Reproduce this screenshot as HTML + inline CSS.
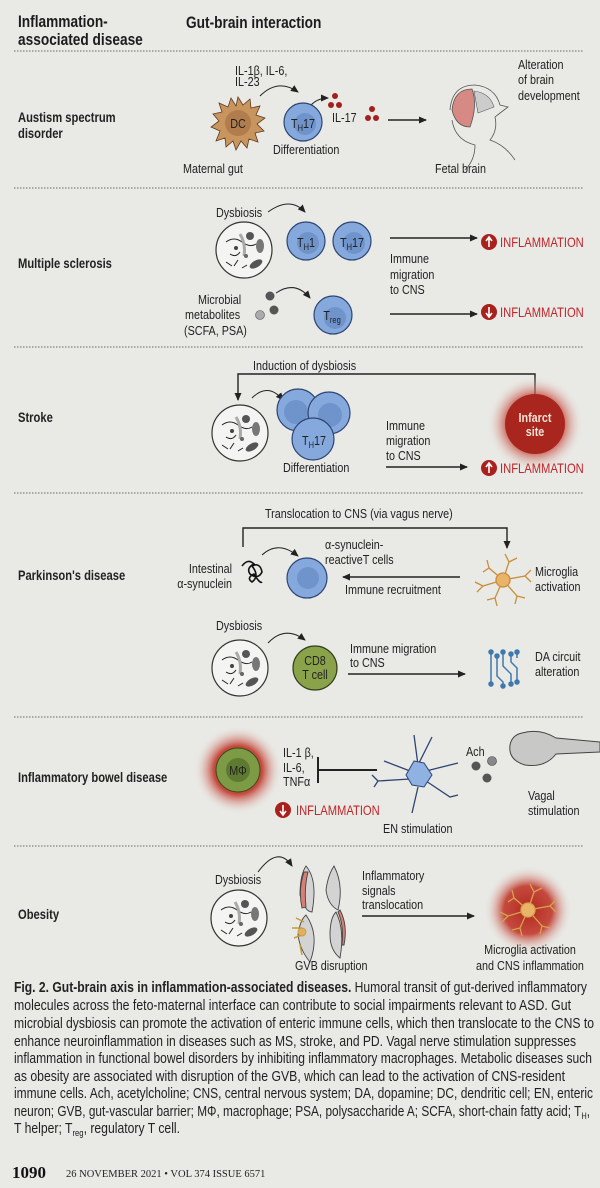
<!DOCTYPE html>
<html><head><meta charset="utf-8"><style>
html,body{margin:0;padding:0;background:#e9e9e5;}
svg{display:block;}
text{font-family:"Liberation Sans Narrow","Liberation Sans",sans-serif;fill:#222;}
.h,.d,.l,.r{transform-box:fill-box;transform-origin:0% 50%;transform:scaleX(0.83);}
.mid{transform-origin:50% 50% !important;}
.end{transform-origin:100% 50% !important;}
.h{font-weight:bold;font-size:16.5px;fill:#1c1c1c;}
.d{font-weight:bold;font-size:13.5px;}
.l{font-size:13px;}
.r{font-size:13.5px;fill:#c0262a;}
.c{font-size:14.3px;}
.cell{fill:#86a9dd;stroke:#2d4573;stroke-width:1.2;}
.inn{fill:#6f94cc;}
.sep{stroke:#666;stroke-width:1;stroke-dasharray:1.5 1.5;}
.ar{stroke:#222;stroke-width:1.4;fill:none;}
.thin{stroke:#222;stroke-width:1;fill:none;}
</style></head><body>
<svg width="600" height="1188" viewBox="0 0 600 1188" xmlns="http://www.w3.org/2000/svg">
<defs>
<marker id="m" markerWidth="8" markerHeight="8" refX="7" refY="4" orient="auto" markerUnits="userSpaceOnUse"><path d="M0,0.5 L8,4 L0,7.5 z" fill="#222"/></marker>
<radialGradient id="glow"><stop offset="0" stop-color="#b3261e"/><stop offset="0.55" stop-color="#c0392b" stop-opacity="0.9"/><stop offset="1" stop-color="#e9e9e5" stop-opacity="0"/></radialGradient>
<g id="mic">
<circle r="28" fill="#f4f4f2" stroke="#333" stroke-width="1.2"/>
<path d="M-18,-8 q8,-6 16,0 t14,2" class="thin" stroke="#888"/>
<path d="M-14,4 q6,4 10,-2" class="thin"/>
<path d="M-4,-16 q6,10 4,22" stroke="#aaa" stroke-width="3" fill="none"/>
<circle cx="6" cy="-14" r="4" fill="#555"/>
<ellipse cx="16" cy="-4" rx="4" ry="7" fill="#777"/>
<ellipse cx="12" cy="14" rx="7" ry="3.5" fill="#555" transform="rotate(-30 12 14)"/>
<path d="M-18,12 l6,4 M-10,16 l4,-6 M-2,18 l5,-3" class="thin"/>
<circle cx="-8" cy="-2" r="2" fill="#444"/><circle cx="2" cy="6" r="2" fill="#666"/>
</g>
<g id="up"><circle r="8" fill="#a9211c"/><path d="M0,5 V-4 M-3,-1 L0,-5 L3,-1" stroke="#fff" stroke-width="1.6" fill="none"/></g>
<g id="dn"><circle r="8" fill="#a9211c"/><path d="M0,-5 V4 M-3,1 L0,5 L3,1" stroke="#fff" stroke-width="1.6" fill="none"/></g>
</defs>

<!-- header -->
<text class="h" x="18" y="27">Inflammation-</text>
<text class="h" x="18" y="45">associated disease</text>
<text class="h" x="186" y="28">Gut-brain interaction</text>
<line class="sep" x1="14" y1="51" x2="584" y2="51"/>
<line class="sep" x1="14" y1="188" x2="584" y2="188"/>
<line class="sep" x1="14" y1="347" x2="584" y2="347"/>
<line class="sep" x1="14" y1="493" x2="584" y2="493"/>
<line class="sep" x1="14" y1="717" x2="584" y2="717"/>
<line class="sep" x1="14" y1="846" x2="584" y2="846"/>

<!-- ASD -->
<text class="d" x="18" y="122">Austism spectrum</text>
<text class="d" x="18" y="138">disorder</text>
<text class="l" x="235" y="75">IL-1β, IL-6,</text>
<text class="l" x="235" y="86">IL-23</text>
<path d="M260,96 Q278,78 298,92" class="thin" marker-end="url(#m)"/>
<g transform="translate(238,123)">
<path d="M0,-26 L5,-18 L12,-24 L13,-15 L22,-17 L18,-8 L27,-5 L19,1 L26,8 L17,10 L20,19 L11,16 L9,25 L3,18 L-2,27 L-5,18 L-12,24 L-13,15 L-22,18 L-18,8 L-27,4 L-19,-2 L-25,-9 L-16,-11 L-19,-20 L-10,-16 L-7,-25 L-2,-17 z" fill="#c9955e" stroke="#5b3a1e" stroke-width="0.8"/>
<circle r="13" fill="#b27d4d"/>
<text x="0" y="5" text-anchor="middle" class="l mid">DC</text>
</g>
<path d="M311,105 Q318,98 328,98" class="thin" marker-end="url(#m)"/>
<circle class="cell" cx="303" cy="122" r="19"/><circle class="inn" cx="305" cy="124" r="11"/>
<text x="303" y="128" text-anchor="middle" class="l mid">T<tspan font-size="9" dy="3">H</tspan><tspan dy="-3">17</tspan></text>
<text class="l" x="273" y="154">Differentiation</text>
<text class="l" x="183" y="173">Maternal gut</text>
<g fill="#a3201c"><circle cx="335" cy="96" r="3"/><circle cx="331" cy="105" r="3"/><circle cx="339" cy="105" r="3"/><circle cx="372" cy="109" r="3"/><circle cx="368" cy="118" r="3"/><circle cx="376" cy="118" r="3"/></g>
<text class="l" x="332" y="122">IL-17</text>
<line x1="388" y1="120" x2="426" y2="120" class="ar" marker-end="url(#m)"/>
<g transform="translate(470,115)">
<path d="M-20,-5 Q-18,-30 5,-30 Q25,-28 30,-10 L38,-8 Q30,-2 25,2 Q28,15 20,25 Q35,30 45,45 M-18,5 Q-15,25 5,30 Q5,45 -5,55" fill="none" stroke="#555" stroke-width="0.8"/>
<path d="M-18,-5 Q-16,-26 2,-26 Q8,-10 0,12 Q-14,12 -18,-5z" fill="#d68a83" stroke="#555" stroke-width="0.8"/>
<path d="M4,-24 Q20,-22 24,-8 L8,-2 z" fill="#ccc" stroke="#555" stroke-width="0.6"/>
</g>
<text class="l" x="518" y="69">Alteration</text>
<text class="l" x="518" y="84">of brain</text>
<text class="l" x="518" y="100">development</text>
<text class="l" x="435" y="173">Fetal brain</text>

<!-- MS -->
<text class="d" x="18" y="268">Multiple sclerosis</text>
<text class="l" x="216" y="217">Dysbiosis</text>
<path d="M268,212 Q290,196 305,212" class="thin" marker-end="url(#m)"/>
<use href="#mic" x="244" y="250"/>
<circle class="cell" cx="306" cy="241" r="19"/><circle class="inn" cx="308" cy="243" r="11"/>
<text x="306" y="247" text-anchor="middle" class="l mid">T<tspan font-size="9" dy="3">H</tspan><tspan dy="-3">1</tspan></text>
<circle class="cell" cx="352" cy="241" r="19"/><circle class="inn" cx="354" cy="243" r="11"/>
<text x="352" y="247" text-anchor="middle" class="l mid">T<tspan font-size="9" dy="3">H</tspan><tspan dy="-3">17</tspan></text>
<line x1="390" y1="238" x2="477" y2="238" class="ar" marker-end="url(#m)"/>
<use href="#up" x="489" y="242"/><text class="r" x="500" y="247">INFLAMMATION</text>
<text class="l" x="390" y="263">Immune</text>
<text class="l" x="390" y="279">migration</text>
<text class="l" x="390" y="294">to CNS</text>
<text class="l" x="198" y="304">Microbial</text>
<text class="l" x="185" y="319">metabolites</text>
<text class="l" x="184" y="335">(SCFA, PSA)</text>
<circle cx="270" cy="296" r="4.5" fill="#555"/><circle cx="274" cy="310" r="4.5" fill="#555"/><circle cx="260" cy="315" r="4.5" fill="#aaa" stroke="#555" stroke-width="0.6"/>
<path d="M276,293 Q295,280 310,298" class="thin" marker-end="url(#m)"/>
<circle class="cell" cx="333" cy="315" r="19"/><circle class="inn" cx="335" cy="318" r="11"/>
<text x="332" y="320" text-anchor="middle" class="l mid">T<tspan font-size="9" dy="3">reg</tspan></text>
<line x1="390" y1="314" x2="477" y2="314" class="ar" marker-end="url(#m)"/>
<use href="#dn" x="489" y="312"/><text class="r" x="500" y="317">INFLAMMATION</text>

<!-- Stroke -->
<text class="d" x="18" y="422">Stroke</text>
<text class="l" x="253" y="370">Induction of dysbiosis</text>
<path d="M535,400 V374 H238 V400" class="ar" marker-end="url(#m)"/>
<path d="M252,398 Q268,382 283,400" class="thin" marker-end="url(#m)"/>
<use href="#mic" x="240" y="433"/>
<circle class="cell" cx="298" cy="410" r="21"/><circle class="inn" cx="296" cy="412" r="12"/>
<circle class="cell" cx="329" cy="413" r="21"/><circle class="inn" cx="330" cy="415" r="12"/>
<circle class="cell" cx="313" cy="439" r="21"/>
<text x="314" y="445" text-anchor="middle" class="l mid">T<tspan font-size="9" dy="3">H</tspan><tspan dy="-3">17</tspan></text>
<text class="l" x="283" y="472">Differentiation</text>
<circle cx="535" cy="424" r="48" fill="url(#glow)"/>
<circle cx="535" cy="424" r="30" fill="#a9261f"/>
<text x="535" y="422" text-anchor="middle" class="l mid" style="fill:#f3e2d5;font-weight:bold">Infarct</text>
<text x="535" y="436" text-anchor="middle" class="l mid" style="fill:#f3e2d5;font-weight:bold">site</text>
<text class="l" x="386" y="430">Immune</text>
<text class="l" x="386" y="445">migration</text>
<text class="l" x="386" y="460">to CNS</text>
<line x1="386" y1="467" x2="467" y2="467" class="ar" marker-end="url(#m)"/>
<use href="#up" x="489" y="468"/><text class="r" x="500" y="473">INFLAMMATION</text>

<!-- PD -->
<text class="d" x="18" y="580">Parkinson's disease</text>
<text class="l" x="265" y="518">Translocation to CNS (via vagus nerve)</text>
<path d="M243,547 V528 H507 V548" class="ar" marker-end="url(#m)"/>
<text class="l end" x="232" y="573" text-anchor="end">Intestinal</text>
<text class="l end" x="232" y="588" text-anchor="end">α-synuclein</text>
<path d="M242,566 q6,-8 12,-2 q-8,4 -4,10 q8,6 12,-2 q-2,-10 -10,-6 q8,10 0,16 q-6,-4 2,-8 q6,10 8,8" fill="none" stroke="#111" stroke-width="1.6"/>
<path d="M262,555 Q278,540 298,556" class="thin" marker-end="url(#m)"/>
<circle class="cell" cx="307" cy="578" r="20"/><circle class="inn" cx="308" cy="578" r="11"/>
<text class="l" x="325" y="549">α-synuclein-</text>
<text class="l" x="325" y="564">reactiveT cells</text>
<line x1="460" y1="577" x2="343" y2="577" class="ar" marker-end="url(#m)"/>
<text class="l" x="345" y="594">Immune recruitment</text>
<g transform="translate(503,580)" stroke="#c98d3c" stroke-width="1.3" fill="none">
<path d="M0,0 L-14,-12 L-20,-8 M-14,-12 L-16,-20 M0,0 L6,-18 L2,-26 M6,-18 L14,-22 M0,0 L22,-4 L28,-10 M22,-4 L28,2 M0,0 L14,16 L12,24 M14,16 L22,18 M0,0 L-8,18 L-16,20 M-8,18 L-6,26 M0,0 L-20,6 L-28,2 M-20,6 L-26,12"/>
<circle r="7" fill="#e9b36a" stroke="#c98d3c"/>
</g>
<text class="l" x="535" y="576">Microglia</text>
<text class="l" x="535" y="591">activation</text>
<text class="l" x="216" y="630">Dysbiosis</text>
<path d="M268,643 Q285,625 305,640" class="thin" marker-end="url(#m)"/>
<use href="#mic" x="240" y="668"/>
<circle cx="315" cy="668" r="22" fill="#8aa34a" stroke="#33401b" stroke-width="1.2"/>
<text x="315" y="665" text-anchor="middle" class="l mid">CD8</text>
<text x="315" y="679" text-anchor="middle" class="l mid">T cell</text>
<text class="l" x="350" y="653">Immune migration</text>
<text class="l" x="350" y="667">to CNS</text>
<line x1="348" y1="674" x2="465" y2="674" class="ar" marker-end="url(#m)"/>
<g transform="translate(505,668)" stroke="#3f79ad" stroke-width="1.5" fill="none">
<path d="M-14,-16 V16 M-8,-12 V8 l6,6 V18 M-2,-16 V-2 l8,8 V16 M6,-14 V-6 l6,6 V14 M12,-16 V-10"/>
<g fill="#3f79ad"><circle cx="-14" cy="-16" r="2"/><circle cx="-8" cy="-12" r="2"/><circle cx="-2" cy="-16" r="2"/><circle cx="6" cy="-14" r="2"/><circle cx="12" cy="-16" r="2"/><circle cx="-2" cy="18" r="2"/><circle cx="6" cy="16" r="2"/><circle cx="12" cy="14" r="2"/><circle cx="-14" cy="16" r="2"/></g>
</g>
<text class="l" x="535" y="661">DA circuit</text>
<text class="l" x="535" y="676">alteration</text>

<!-- IBD -->
<text class="d" x="18" y="782">Inflammatory bowel disease</text>
<circle cx="238" cy="770" r="44" fill="url(#glow)"/>
<circle cx="238" cy="770" r="22" fill="#7d9a45" stroke="#3c4a1d" stroke-width="1"/>
<circle cx="238" cy="770" r="12" fill="#5d7a30"/>
<text x="238" y="775" text-anchor="middle" class="l mid">MΦ</text>
<text class="l" x="283" y="757">IL-1 β,</text>
<text class="l" x="283" y="772">IL-6,</text>
<text class="l" x="283" y="786">TNFα</text>
<path d="M318,757 V783 M318,770 H377" stroke="#222" stroke-width="2" fill="none"/>
<g transform="translate(418,775)">
<path d="M0,-10 L-4,-40 M0,-10 L14,-38 M8,-4 L40,-12 M8,6 L32,22 L40,20 M0,12 L-6,38 M-8,4 L-40,6 M-8,-4 L-34,-14 M-40,6 L-46,0 M-40,6 L-44,12" stroke="#2d4573" stroke-width="1.3" fill="none"/>
<path d="M-4,-14 L6,-12 L14,0 L6,12 L-6,10 L-12,0 z" fill="#8fb2e2" stroke="#2d4573" stroke-width="1"/>
</g>
<text class="l" x="466" y="756">Ach</text>
<circle cx="476" cy="766" r="4.5" fill="#555"/><circle cx="492" cy="761" r="4.5" fill="#888" stroke="#444" stroke-width="0.6"/><circle cx="487" cy="778" r="4.5" fill="#555"/>
<path d="M600,742 L600,752 L556,754 Q545,768 525,765 Q508,760 510,745 Q512,735 522,733 Q540,728 556,738 Z" fill="#c8c8c6" stroke="#444" stroke-width="1"/>
<text class="l" x="528" y="800">Vagal</text>
<text class="l" x="528" y="815">stimulation</text>
<use href="#dn" x="283" y="810"/><text class="r" x="296" y="815">INFLAMMATION</text>
<text class="l" x="383" y="833">EN stimulation</text>

<!-- Obesity -->
<text class="d" x="18" y="919">Obesity</text>
<text class="l" x="215" y="884">Dysbiosis</text>
<path d="M258,872 Q278,845 292,866" class="thin" marker-end="url(#m)"/>
<use href="#mic" x="239" y="918"/>
<g stroke="#444" stroke-width="0.9">
<path d="M306,866 Q318,880 312,912 Q305,912 300,895 Q300,875 306,866z" fill="#d3d3d3"/>
<path d="M304,872 Q298,890 302,908 L306,907 Q304,888 308,872z" fill="#d87e74"/>
<path d="M334,866 Q344,885 338,910 Q328,905 326,890 Q328,875 334,866z" fill="#d3d3d3"/>
<path d="M306,915 Q320,935 310,962 Q300,950 298,935 Q300,920 306,915z" fill="#d3d3d3"/>
<path d="M336,912 Q345,930 340,958 Q330,950 330,935 Q330,918 336,912z" fill="#d3d3d3"/>
<path d="M340,910 Q348,925 344,945 L342,945 Q344,925 338,912z" fill="#d87e74"/>
<path d="M296,918 l8,4 M292,928 l10,0 M294,938 l8,-3 M300,945 l2,10" stroke="#c59a3a" stroke-width="1.5"/>
<circle cx="302" cy="932" r="4" fill="#e0b066" stroke="#c59a3a"/>
</g>
<text class="l" x="295" y="970">GVB disruption</text>
<text class="l" x="362" y="880">Inflammatory</text>
<text class="l" x="362" y="895">signals</text>
<text class="l" x="362" y="909">translocation</text>
<line x1="362" y1="916" x2="474" y2="916" class="ar" marker-end="url(#m)"/>
<circle cx="528" cy="910" r="44" fill="url(#glow)"/>
<g transform="translate(528,910)" stroke="#d4a44c" stroke-width="1.3" fill="none">
<path d="M0,0 L-14,-12 L-20,-8 M-14,-12 L-16,-20 M0,0 L6,-18 L2,-26 M6,-18 L14,-22 M0,0 L22,-4 L28,-10 M22,-4 L28,2 M0,0 L14,16 L12,24 M14,16 L22,18 M0,0 L-8,18 L-16,20 M-8,18 L-6,26 M0,0 L-20,6 L-28,2 M-20,6 L-26,12"/>
<circle r="7" fill="#e9b36a"/>
</g>
<text class="l mid" x="530" y="954" text-anchor="middle">Microglia activation</text>
<text class="l mid" x="530" y="970" text-anchor="middle">and CNS inflammation</text>

<!-- caption -->
<text class="c" x="14" y="992" textLength="573" lengthAdjust="spacingAndGlyphs"><tspan font-weight="bold">Fig. 2. Gut-brain axis in inflammation-associated diseases.</tspan> Humoral transit of gut-derived inflammatory</text>
<text class="c" x="14" y="1010" textLength="557" lengthAdjust="spacingAndGlyphs">molecules across the feto-maternal interface can contribute to social impairments relevant to ASD. Gut</text>
<text class="c" x="14" y="1028" textLength="580" lengthAdjust="spacingAndGlyphs">microbial dysbiosis can promote the activation of enteric immune cells, which then translocate to the CNS to</text>
<text class="c" x="14" y="1046" textLength="562" lengthAdjust="spacingAndGlyphs">enhance neuroinflammation in diseases such as MS, stroke, and PD. Vagal nerve stimulation suppresses</text>
<text class="c" x="14" y="1063" textLength="578" lengthAdjust="spacingAndGlyphs">inflammation in functional bowel disorders by inhibiting inflammatory macrophages. Metabolic diseases such</text>
<text class="c" x="14" y="1081" textLength="551" lengthAdjust="spacingAndGlyphs">as obesity are associated with disruption of the GVB, which can lead to the activation of CNS-resident</text>
<text class="c" x="14" y="1098" textLength="579" lengthAdjust="spacingAndGlyphs">immune cells. Ach, acetylcholine; CNS, central nervous system; DA, dopamine; DC, dendritic cell; EN, enteric</text>
<text class="c" x="14" y="1116" textLength="576" lengthAdjust="spacingAndGlyphs">neuron; GVB, gut-vascular barrier; MΦ, macrophage; PSA, polysaccharide A; SCFA, short-chain fatty acid; T<tspan font-size="9" dy="3">H</tspan><tspan dy="-3">,</tspan></text>
<text class="c" x="14" y="1133" textLength="166" lengthAdjust="spacingAndGlyphs">T helper; T<tspan font-size="9" dy="3">reg</tspan><tspan dy="-3">, regulatory T cell.</tspan></text>

<text x="12" y="1178" style="font-family:'Liberation Serif',serif;font-weight:bold;font-size:17px;fill:#111">1090</text>
<text x="66" y="1177" style="font-family:'Liberation Serif',serif;font-size:10.5px;fill:#222">26 NOVEMBER 2021 • VOL 374 ISSUE 6571</text>
</svg>
</body></html>
